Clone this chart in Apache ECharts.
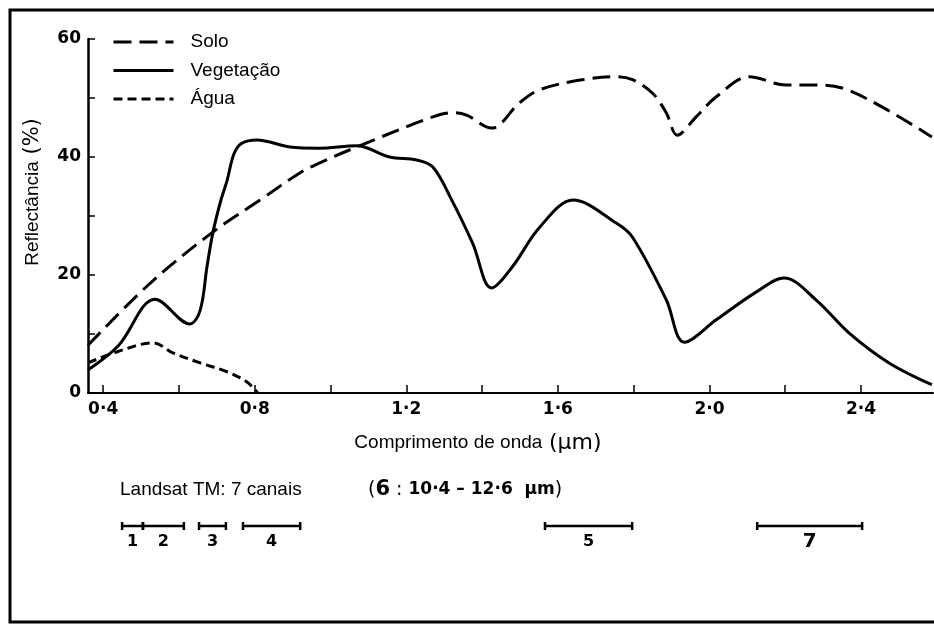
<!DOCTYPE html>
<html>
<head>
<meta charset="utf-8">
<script src="https://cdn.jsdelivr.net/npm/echarts@6/dist/echarts.min.js"></script>
<style>
  html, body { margin: 0; padding: 0; background: #fff; }
  #chart { width: 934px; height: 633px; }
</style>
</head>
<body>
<div id="chart"></div>
<script>
// comprimento de onda (um) / reflectancia (%)
const soloX = [0.36, 0.524, 0.69, 0.814, 0.919, 0.972, 1.069, 1.27, 1.322, 1.359, 1.425, 1.499, 1.552, 1.665, 1.754, 1.797, 1.85, 1.886, 1.915, 1.965, 2.018, 2.105, 2.202, 2.281, 2.35, 2.455, 2.587];
const soloY = [8.1, 18.6, 27.3, 32.7, 37.3, 39, 41.7, 46.8, 47.5, 47.1, 44.9, 49.2, 51.4, 53.1, 53.6, 53.1, 50.8, 47.5, 43.7, 46.8, 50.2, 53.6, 52.2, 52.2, 51.7, 48.5, 43.4];

const vegX = [0.36, 0.44, 0.537, 0.629, 0.656, 0.674, 0.69, 0.71, 0.727, 0.745, 0.765, 0.806, 0.893, 0.97, 1.069, 1.156, 1.227, 1.27, 1.32, 1.375, 1.425, 1.48, 1.552, 1.64, 1.754, 1.797, 1.886, 1.934, 2.018, 2.123, 2.197, 2.281, 2.368, 2.474, 2.587];
const vegY = [3.9, 8, 15.9, 11.7, 14, 21.4, 27.3, 32.5, 36, 40.5, 42.3, 42.9, 41.7, 41.5, 41.9, 40, 39.5, 38.3, 32.7, 25.4, 17.8, 21.4, 28.1, 32.7, 28.8, 26.4, 15.8, 8.6, 12.4, 17.1, 19.5, 15.8, 10.2, 5.1, 1.4];

const aguaX = [0.36, 0.437, 0.532, 0.584, 0.656, 0.727, 0.779, 0.808];
const aguaY = [5.1, 7, 8.5, 6.8, 5.1, 3.6, 1.9, 0];

// Landsat TM canais
const bandNames = ['1', '2', '3', '4', '5', '7'];
const bandStart = [0.45, 0.505, 0.653, 0.769, 1.566, 2.126];
const bandEnd = [0.505, 0.613, 0.724, 0.92, 1.796, 2.403];

const xTicks = [4, 6, 8, 10, 12, 14, 16, 18, 20, 22, 24].map(v => v / 10);
const xLabels = [4, 8, 12, 16, 20, 24].map(v => v / 10);

const pairs = (xs, ys) => xs.map((x, i) => [x, ys[i]]);

const chart = echarts.init(document.getElementById('chart'));

const lineW = 3;
const option = {
  animation: false,
  backgroundColor: '#fff',
  color: ['#000'],
  legend: {
    orient: 'vertical',
    left: 112,
    top: 31,
    padding: 0,
    itemWidth: 60,
    itemHeight: 14,
    itemGap: 6.5,
    data: ['Solo', 'Vegetação', 'Água'],
    itemStyle: { opacity: 0 },
    lineStyle: { width: 3 },
    textStyle: {
      fontFamily: 'Liberation Sans',
      fontSize: 19,
      lineHeight: 22,
      color: '#000',
      padding: [0, 0, 0, 12]
    }
  },
  grid: [
    { left: 88, right: 1, top: 39, bottom: 240 },
    { left: 88, right: 1, top: 516, height: 20 }
  ],
  xAxis: [
    {
      type: 'value',
      min: 0.36,
      max: 2.59,
      gridIndex: 0,
      splitLine: { show: false },
      axisLine: { lineStyle: { color: '#000', width: 2 } },
      axisTick: { inside: true, length: 8, customValues: xTicks, lineStyle: { color: '#000', width: 1.5 } },
      axisLabel: {
        customValues: xLabels,
        margin: 8,
        color: '#000',
        fontFamily: 'DejaVu Sans',
        fontWeight: 'bold',
        fontSize: 17,
        formatter: v => v.toFixed(1).replace('.', '·')
      }
    },
    { type: 'value', min: 0.36, max: 2.59, gridIndex: 1, show: false }
  ],
  yAxis: [
    {
      type: 'value',
      min: 0,
      max: 60,
      interval: 10,
      gridIndex: 0,
      splitLine: { show: false },
      axisLine: { show: true, lineStyle: { color: '#000', width: 2.5 } },
      axisTick: { show: true, inside: true, length: 7, lineStyle: { color: '#000', width: 1.5 } },
      axisLabel: {
        margin: 7,
        color: '#000',
        fontFamily: 'DejaVu Sans',
        fontWeight: 'bold',
        fontSize: 17,
        formatter: v => (v % 20 === 0 ? v : '')
      }
    },
    { type: 'value', min: 0, max: 1, gridIndex: 1, show: false }
  ],
  graphic: [
    {
      type: 'rect',
      shape: { x: 10, y: 10, width: 940, height: 612 },
      style: { fill: 'none', stroke: '#000', lineWidth: 3 },
      z: 100
    },
    {
      type: 'text',
      x: 33,
      y: 192,
      rotation: Math.PI / 2,
      style: {
        text: '{a|Reflectância}  {b|(%)}',
        align: 'center',
        verticalAlign: 'middle',
        rich: {
          a: { fontFamily: 'Liberation Sans', fontSize: 19, fill: '#000' },
          b: { fontFamily: 'DejaVu Sans', fontSize: 21, fill: '#000' }
        }
      }
    },
    {
      type: 'text',
      x: 478,
      y: 443,
      style: {
        text: '{a|Comprimento de onda}  {b|(µm)}',
        align: 'center',
        verticalAlign: 'middle',
        rich: {
          a: { fontFamily: 'Liberation Sans', fontSize: 19, fill: '#000' },
          b: { fontFamily: 'DejaVu Sans', fontSize: 22, fill: '#000' }
        }
      }
    },
    {
      type: 'text',
      x: 120,
      y: 490,
      style: {
        text: 'Landsat TM: 7 canais',
        verticalAlign: 'middle',
        fontFamily: 'Liberation Sans',
        fontSize: 19,
        fill: '#000'
      }
    },
    {
      type: 'text',
      x: 368,
      y: 490,
      style: {
        text: '{p|(}{s|6}{p| : }{n|10·4 – 12·6  µm}{p|)}',
        verticalAlign: 'middle',
        rich: {
          p: { fontFamily: 'DejaVu Sans', fontSize: 19, fill: '#000' },
          s: { fontFamily: 'DejaVu Sans', fontWeight: 'bold', fontSize: 21, fill: '#000' },
          n: { fontFamily: 'DejaVu Sans', fontWeight: 'bold', fontSize: 17, fill: '#000' }
        }
      }
    }
  ],
  series: [
    {
      name: 'Solo',
      type: 'line',
      data: pairs(soloX, soloY),
      smooth: 0.35,
      showSymbol: false,
      symbol: 'none',
      itemStyle: { color: '#000' },
      lineStyle: { color: '#000', width: lineW, type: [18, 8] }
    },
    {
      name: 'Vegetação',
      type: 'line',
      data: pairs(vegX, vegY),
      smooth: 0.35,
      showSymbol: false,
      symbol: 'none',
      itemStyle: { color: '#000' },
      lineStyle: { color: '#000', width: lineW, type: 'solid' }
    },
    {
      name: 'Água',
      type: 'line',
      data: pairs(aguaX, aguaY),
      smooth: 0.35,
      showSymbol: false,
      symbol: 'none',
      itemStyle: { color: '#000' },
      lineStyle: { color: '#000', width: lineW, type: [9, 5] }
    },
    {
      name: 'canais',
      type: 'custom',
      xAxisIndex: 1,
      yAxisIndex: 1,
      clip: false,
      data: bandStart.map((s, i) => [s, bandEnd[i]]),
      encode: { x: [0, 1] },
      renderItem: function (params, api) {
        const a = api.coord([api.value(0), 0.5]);
        const b = api.coord([api.value(1), 0.5]);
        const name = bandNames[params.dataIndex];
        const st = { stroke: '#000', lineWidth: 2.5 };
        return {
          type: 'group',
          children: [
            { type: 'line', shape: { x1: a[0], y1: a[1], x2: b[0], y2: b[1] }, style: st },
            { type: 'line', shape: { x1: a[0], y1: a[1] - 4, x2: a[0], y2: a[1] + 4 }, style: st },
            { type: 'line', shape: { x1: b[0], y1: b[1] - 4, x2: b[0], y2: b[1] + 4 }, style: st },
            {
              type: 'text',
              x: (a[0] + b[0]) / 2,
              y: a[1] + 16,
              style: {
                text: name,
                align: 'center',
                verticalAlign: 'middle',
                fontFamily: 'DejaVu Sans',
                fontWeight: 'bold',
                fontSize: name === '7' ? 20 : 16,
                fill: '#000'
              }
            }
          ]
        };
      }
    }
  ]
};

chart.setOption(option);
</script>
</body>
</html>
